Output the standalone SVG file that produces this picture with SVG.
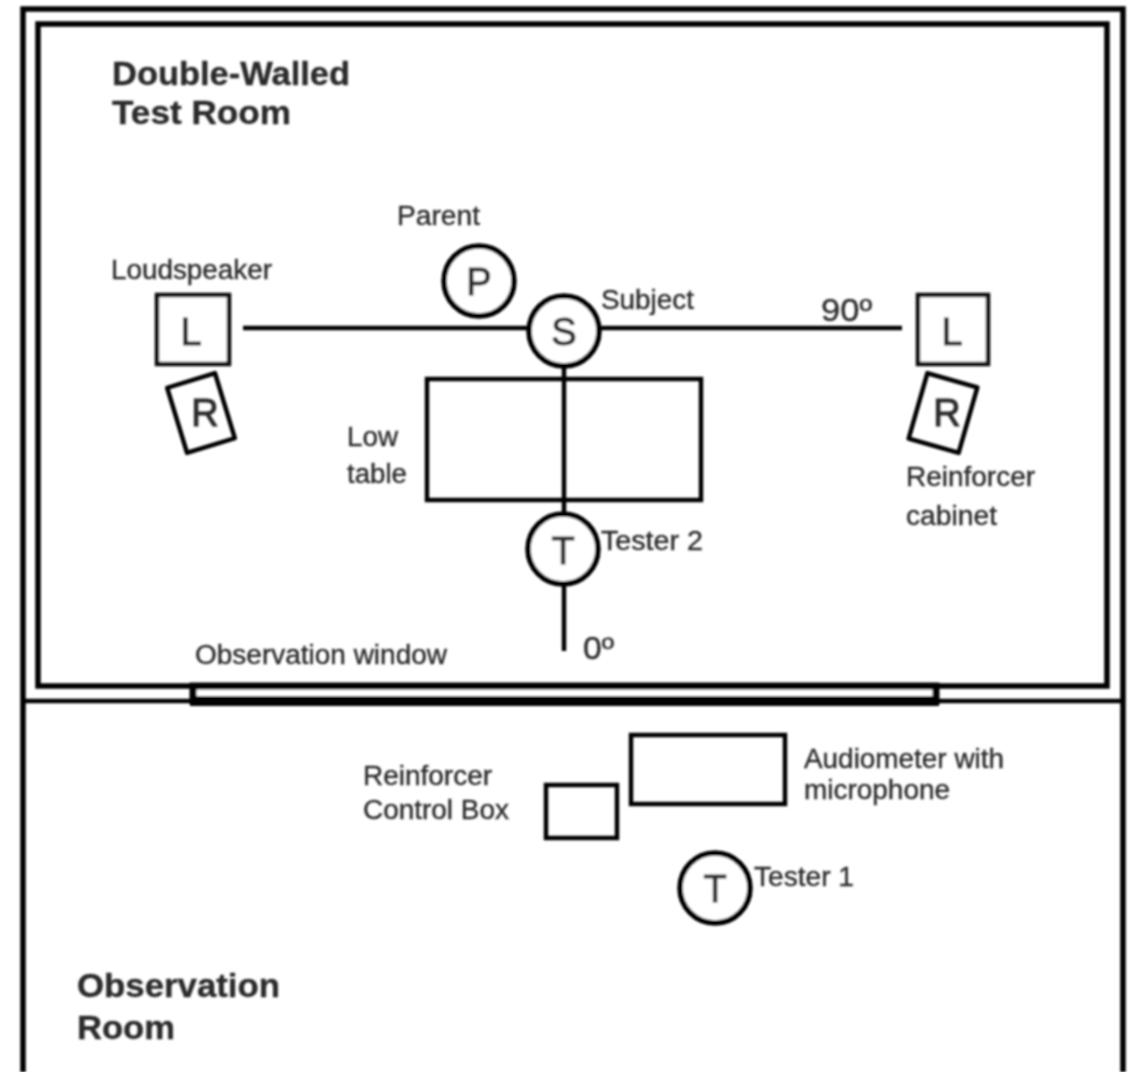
<svg xmlns="http://www.w3.org/2000/svg" width="1131" height="1072" viewBox="0 0 1131 1072">
<style>
text{font-family:"Liberation Sans",Arial,sans-serif;fill:#2a2a2a;stroke:#2a2a2a;stroke-width:.35}
.b{font-size:33px;font-weight:bold}
.s{font-size:27px}
.g{font-size:38px;stroke-width:1}
.o{fill:none;stroke:#000;stroke-width:4.5}
.c{fill:#fff;stroke:#000;stroke-width:5.5}
.w{fill:#fff;stroke:#111;stroke-width:4.5}
.r{fill:none;stroke:#000;stroke-width:4.5;stroke-linejoin:round}
</style>
<defs><filter id="soft" filterUnits="userSpaceOnUse" x="0" y="0" width="1131" height="1072"><feGaussianBlur stdDeviation="0.8"/></filter></defs>
<rect width="1131" height="1072" fill="#fff"/>
<g filter="url(#soft)">
<g id="rooms">
<path class="o" d="M23 1072V9H1123V1072" style="stroke-width:5.5"/>
<rect class="o" x="38" y="24" width="1069" height="662" style="stroke-width:5.5"/>
<path class="o" d="M23 701H1123"/>
</g>
<g id="connectors">
<path class="o" d="M243 328H902M564 328V651"/>
</g>
<g id="window"><rect x="193" y="686" width="743" height="15" fill="#fff" stroke="#000" stroke-width="7"/><rect x="190" y="696" width="749" height="10" fill="#000"/></g>
<g id="title1"><text class="b" x="112" y="85" textLength="238" lengthAdjust="spacingAndGlyphs">Double-Walled</text><text class="b" x="112" y="124" textLength="179" lengthAdjust="spacingAndGlyphs">Test Room</text></g>
<g id="title2"><text class="b" x="77" y="997" textLength="203" lengthAdjust="spacingAndGlyphs">Observation</text><text class="b" x="77" y="1039" textLength="98" lengthAdjust="spacingAndGlyphs">Room</text></g>
<g id="parent"><text class="s" x="397" y="225" textLength="83" lengthAdjust="spacingAndGlyphs">Parent</text><circle class="c" cx="479" cy="281" r="35"/><text class="g" x="479" y="295" text-anchor="middle">P</text></g>
<g id="loudspeaker-left"><text class="s" x="111" y="279" textLength="161" lengthAdjust="spacingAndGlyphs">Loudspeaker</text><rect class="w" x="157" y="295" width="72" height="69"/><text class="g" x="191" y="345" text-anchor="middle">L</text></g>
<g id="reinforcer-left"><rect class="r" x="-25" y="-34" width="50" height="68" transform="translate(201 413) rotate(-17)"/><text class="g" x="205" y="426" text-anchor="middle">R</text></g>
<g id="subject"><circle class="c" cx="564" cy="331" r="35"/><text class="g" x="564" y="345" text-anchor="middle">S</text><text class="s" x="601" y="309" textLength="93" lengthAdjust="spacingAndGlyphs">Subject</text></g>
<g id="angle90"><text x="821" y="321" font-size="32" textLength="51" lengthAdjust="spacingAndGlyphs">90º</text></g>
<g id="loudspeaker-right"><rect class="w" x="918" y="295" width="70" height="69"/><text class="g" x="952" y="345" text-anchor="middle">L</text></g>
<g id="reinforcer-right"><rect class="r" x="-26" y="-34" width="52" height="68" transform="translate(943 413) rotate(16)"/><text class="g" x="947" y="426" text-anchor="middle">R</text><text class="s" x="906" y="486" textLength="129" lengthAdjust="spacingAndGlyphs">Reinforcer</text><text class="s" x="906" y="525" textLength="91" lengthAdjust="spacingAndGlyphs">cabinet</text></g>
<g id="table"><rect class="o" x="427" y="379" width="274" height="121"/><text class="s" x="347" y="446" textLength="51" lengthAdjust="spacingAndGlyphs">Low</text><text class="s" x="347" y="483" textLength="60" lengthAdjust="spacingAndGlyphs">table</text></g>
<g id="tester2"><circle class="c" cx="563" cy="549" r="35"/><text class="g" x="563" y="564" text-anchor="middle">T</text><text class="s" x="601" y="550" textLength="102" lengthAdjust="spacingAndGlyphs">Tester 2</text></g>
<g id="angle0"><text x="583" y="659" font-size="31" textLength="31" lengthAdjust="spacingAndGlyphs">0º</text></g>
<g id="window-label"><text class="s" x="195" y="664" textLength="252" lengthAdjust="spacingAndGlyphs">Observation window</text></g>
<g id="control-box"><rect class="o" x="546" y="785" width="71" height="53"/><text class="s" x="363" y="785" textLength="129" lengthAdjust="spacingAndGlyphs">Reinforcer</text><text class="s" x="363" y="819" textLength="146" lengthAdjust="spacingAndGlyphs">Control Box</text></g>
<g id="audiometer"><rect class="o" x="631" y="735" width="154" height="69"/><text class="s" x="804" y="768" textLength="200" lengthAdjust="spacingAndGlyphs">Audiometer with</text><text class="s" x="804" y="799" textLength="146" lengthAdjust="spacingAndGlyphs">microphone</text></g>
<g id="tester1"><circle class="c" cx="715" cy="888" r="35"/><text class="g" x="715" y="902" text-anchor="middle">T</text><text class="s" x="754" y="886" textLength="100" lengthAdjust="spacingAndGlyphs">Tester 1</text></g>
</g>
</svg>
